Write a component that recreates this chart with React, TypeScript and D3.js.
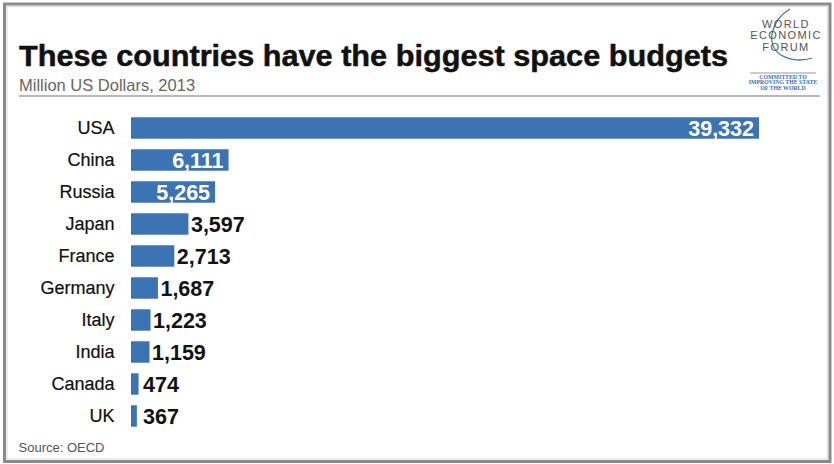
import React from "react";
import * as d3 from "d3";

const countries = ["USA", "China", "Russia", "Japan", "France", "Germany", "Italy", "India", "Canada", "UK"];
const budgets = [39332, 6111, 5265, 3597, 2713, 1687, 1223, 1159, 474, 367];
const insideLabelCount = 3;
const title = "These countries have the biggest space budgets";
const subtitle = "Million US Dollars, 2013";
const source = "Source: OECD";
const logoLines = ["WORLD", "ECONOMIC", "FORUM"];
const logoTagline = ["COMMITTED TO", "IMPROVING THE STATE", "OF THE WORLD"];

const W = 834;
const H = 464;
const FONT = "'Liberation Sans', Arial, Helvetica, sans-serif";
const BLUE = "#3c74b3";

export default function App() {
  const x = d3.scaleLinear().domain([0, 39332]).range([131, 759]);
  const y = d3
    .scaleBand<string>()
    .domain(countries)
    .range([112, 432])
    .paddingInner(0.33)
    .paddingOuter(0.165);
  const fmt = d3.format(",");
  const bw = y.bandwidth();

  return (
    <div style={{ position: "absolute", left: 0, top: 0 }}>
      <svg width={W} height={H} style={{ display: "block", fontFamily: FONT }}>
        <rect x={0} y={0} width={W} height={H} fill="#ffffff" />
        {/* frame */}
        <rect x={4.5} y={4} width={825.5} height={457.5} fill="none" stroke="#8a8a8a" strokeWidth={3} />
        <rect x={7} y={6.5} width={820.5} height={452.5} fill="none" stroke="#dcdcdc" strokeWidth={1} />

        {/* title */}
        <text
          x={19}
          y={66}
          fontSize={30}
          fontWeight="bold"
          fill="#111"
          stroke="#111"
          strokeWidth={0.5}
          textLength={709}
          lengthAdjust="spacingAndGlyphs"
        >
          {title}
        </text>
        <text x={19} y={90.5} fontSize={16.5} fill="#666">
          {subtitle}
        </text>
        <line x1={19} x2={820} y1={96} y2={96} stroke="#a0a0a0" strokeWidth={1.5} />

        {/* logo */}
        <g>
          <path
            d="M 790 9 C 771 20, 765 45, 781 55 C 791 61, 803 61, 812 58"
            fill="none"
            stroke="#3a78c0"
            strokeWidth={1.3}
          />
          {logoLines.map((t, i) => (
            <text
              key={t}
              x={786}
              y={28 + i * 11.3}
              fontSize={11}
              fill="#555"
              textAnchor="middle"
              letterSpacing={1.4}
            >
              {t}
            </text>
          ))}
          <line x1={750} x2={816} y1={73} y2={73} stroke="#9a9a9a" strokeWidth={1} />
          {logoTagline.map((t, i) => (
            <text
              key={t}
              x={783}
              y={78.5 + i * 5.8}
              fontSize={5.8}
              fontWeight="bold"
              fill="#3a6fb5"
              textAnchor="middle"
              fontFamily="'Liberation Serif', 'DejaVu Serif', serif"
            >
              {t}
            </text>
          ))}
        </g>

        {/* bars */}
        {countries.map((c, i) => {
          const v = budgets[i];
          const y0 = y(c) as number;
          const cy = y0 + bw / 2;
          const inside = i < insideLabelCount;
          return (
            <g key={c}>
              <text x={114.5} y={cy + 6.3} fontSize={18} fill="#111" stroke="#111" strokeWidth={0.2} textAnchor="end">
                {c}
              </text>
              <rect x={x(0)} y={y0} width={x(v) - x(0)} height={bw} fill={BLUE} />
              {inside ? (
                <text x={x(v) - 5} y={cy + 7.5} fontSize={21.5} fontWeight="bold" fill="#ffffff" textAnchor="end">
                  {fmt(v)}
                </text>
              ) : (
                <text
                  x={Math.max(x(v) + 2.5, x(0) + 12)}
                  y={cy + 7.5}
                  fontSize={21.5}
                  fontWeight="bold"
                  fill="#111"
                >
                  {fmt(v)}
                </text>
              )}
            </g>
          );
        })}

        <text x={18.5} y={452} fontSize={13} fill="#555">
          {source}
        </text>
      </svg>
    </div>
  );
}
